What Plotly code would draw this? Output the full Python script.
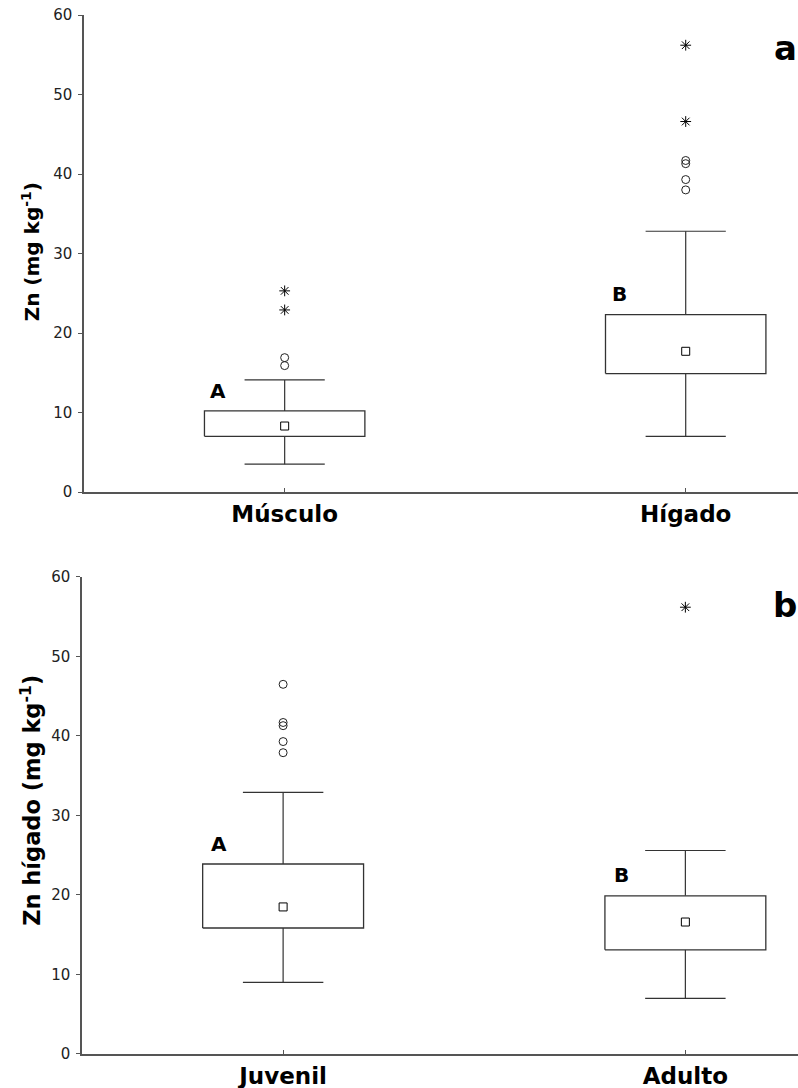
import plotly.graph_objects as go

# Panel a: Zn concentration by tissue
tissue_labels = ["Músculo", "Hígado"]
tissue_q1 = [7.0, 14.9]
tissue_q3 = [10.2, 22.3]
tissue_median = [8.3, 17.7]
tissue_low = [3.5, 7.0]
tissue_high = [14.1, 32.8]
tissue_outliers = [[16.9, 15.9], [41.7, 41.3, 39.3, 38.0]]
tissue_extremes = [[25.3, 22.9], [56.2, 46.6]]
tissue_letters = ["A", "B"]

# Panel b: Zn in liver by age class
age_labels = ["Juvenil", "Adulto"]
age_q1 = [15.85, 13.1]
age_q3 = [23.9, 19.9]
age_median = [18.5, 16.6]
age_low = [9.0, 7.0]
age_high = [32.9, 25.6]
age_outliers = [[46.5, 41.7, 41.3, 39.3, 37.9], []]
age_extremes = [[], [56.2]]
age_letters = ["A", "B"]

y_ticks = [0, 10, 20, 30, 40, 50, 60]

FONT = "DejaVu Sans"
LINE = "#333333"
AXIS = "#555555"
BOX_HALF = 0.2
CAP_HALF = 0.1

fig = go.Figure()


def add_panel(q1, q3, med, low, high, outl, extr, xa, ya):
    bx, by = [], []
    wx, wy = [], []
    for i in range(len(q1)):
        bx += [i - BOX_HALF, i + BOX_HALF, i + BOX_HALF, i - BOX_HALF, i - BOX_HALF, None]
        by += [q1[i], q1[i], q3[i], q3[i], q1[i], None]
        wx += [i, i, None, i - CAP_HALF, i + CAP_HALF, None,
               i, i, None, i - CAP_HALF, i + CAP_HALF, None]
        wy += [q3[i], high[i], None, high[i], high[i], None,
               q1[i], low[i], None, low[i], low[i], None]
    fig.add_trace(go.Scatter(x=wx, y=wy, mode="lines", xaxis=xa, yaxis=ya,
                             line=dict(color=LINE, width=1.2),
                             showlegend=False, hoverinfo="skip"))
    fig.add_trace(go.Scatter(x=bx, y=by, mode="lines", xaxis=xa, yaxis=ya,
                             line=dict(color=LINE, width=1.3),
                             fill="toself", fillcolor="white",
                             showlegend=False, hoverinfo="skip"))
    fig.add_trace(go.Scatter(x=list(range(len(med))), y=med, mode="markers",
                             xaxis=xa, yaxis=ya, showlegend=False,
                             marker=dict(symbol="square-open", size=8,
                                         color="black", line=dict(width=1))))
    ox, oy, ex, ey = [], [], [], []
    for i in range(len(q1)):
        ox += [i] * len(outl[i])
        oy += outl[i]
        ex += [i] * len(extr[i])
        ey += extr[i]
    if ox:
        fig.add_trace(go.Scatter(x=ox, y=oy, mode="markers", xaxis=xa, yaxis=ya,
                                 showlegend=False,
                                 marker=dict(symbol="circle-open", size=8,
                                             color="#222222", line=dict(width=1))))
    if ex:
        fig.add_trace(go.Scatter(x=ex, y=ey, mode="markers", xaxis=xa, yaxis=ya,
                                 showlegend=False,
                                 marker=dict(symbol="asterisk-open", size=9,
                                             color="black", line=dict(width=1))))


add_panel(tissue_q1, tissue_q3, tissue_median, tissue_low, tissue_high,
          tissue_outliers, tissue_extremes, "x", "y")
add_panel(age_q1, age_q3, age_median, age_low, age_high,
          age_outliers, age_extremes, "x2", "y2")

# group letters above each box
for i, (letter, top) in enumerate(zip(tissue_letters, tissue_q3)):
    fig.add_annotation(x=i - 0.165, y=top + 0.8, xref="x", yref="y", text=f"<b>{letter}</b>",
                       showarrow=False, xanchor="center", yanchor="bottom",
                       font=dict(family=FONT, size=20, color="black"))
for i, (letter, top) in enumerate(zip(age_letters, age_q3)):
    fig.add_annotation(x=i - 0.16, y=top + 0.8, xref="x2", yref="y2", text=f"<b>{letter}</b>",
                       showarrow=False, xanchor="center", yanchor="bottom",
                       font=dict(family=FONT, size=20, color="black"))

# panel letters
fig.add_annotation(x=1.248, y=55.8, xref="x", yref="y", text="<b>a</b>", showarrow=False,
                   xanchor="center", font=dict(family=FONT, size=34, color="black"))
fig.add_annotation(x=1.248, y=56.5, xref="x2", yref="y2", text="<b>b</b>", showarrow=False,
                   xanchor="center", font=dict(family=FONT, size=34, color="black"))

# y-axis titles
fig.add_annotation(x=-0.072, y=30.2, xref="paper", yref="y", textangle=-90,
                   xanchor="center", yanchor="middle",
                   text="<b>Zn (mg kg<sup>-1</sup>)</b>", showarrow=False,
                   font=dict(family=FONT, size=20, color="black"))
fig.add_annotation(x=-0.072, y=31.9, xref="paper", yref="y2", textangle=-90,
                   xanchor="center", yanchor="middle",
                   text="<b>Zn hígado (mg kg<sup>-1</sup>)</b>", showarrow=False,
                   font=dict(family=FONT, size=22.5, color="black"))

xcommon = dict(range=[-0.5, 1.28], tickvals=[0, 1], ticks="inside", ticklen=4,
               tickcolor=AXIS, showline=True, linecolor=AXIS, linewidth=1.5,
               showgrid=False, zeroline=False, ticklabelstandoff=1, automargin=False,
               tickfont=dict(family=FONT, size=23, color="black", weight="bold"))
ycommon = dict(range=[0, 60], tickvals=y_ticks, ticks="outside", ticklen=4,
               tickcolor=AXIS, showline=True, linecolor=AXIS, linewidth=1.5,
               showgrid=False, zeroline=False, ticklabelstandoff=3, automargin=False,
               tickfont=dict(family=FONT, size=15, color="#222222"))

fig.update_layout(
    width=798, height=1088,
    margin=dict(l=82, r=0, t=15, b=34),
    paper_bgcolor="white", plot_bgcolor="white",
    showlegend=False,
    xaxis=dict(domain=[0.003, 1], anchor="y", ticktext=tissue_labels, **xcommon),
    yaxis=dict(domain=[0.5409, 1.0], anchor="x", **ycommon),
    xaxis2=dict(domain=[0, 1], anchor="y2", ticktext=age_labels, **xcommon),
    yaxis2=dict(domain=[0, 0.4591], anchor="x2", **ycommon),
)

fig.write_html("out.html")
